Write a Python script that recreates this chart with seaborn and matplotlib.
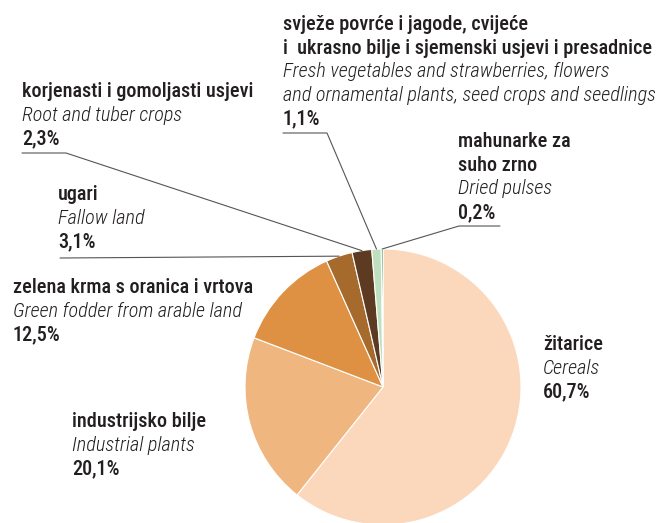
import matplotlib
matplotlib.use("Agg")
import matplotlib.pyplot as plt
import seaborn as sns
import numpy as np

# data
labels_hr = ["žitarice", "industrijsko bilje", "zelena krma s oranica i vrtova",
             "ugari", "korjenasti i gomoljasti usjevi",
             "svježe povrće i jagode, cvijeće\ni  ukrasno bilje i sjemenski usjevi i presadnice",
             "mahunarke za\nsuho zrno"]
labels_en = ["Cereals", "Industrial plants", "Green fodder from arable land",
             "Fallow land", "Root and tuber crops",
             "Fresh vegetables and strawberries, flowers\nand ornamental plants, seed crops and seedlings",
             "Dried pulses"]
shares = [60.7, 20.1, 12.5, 3.1, 2.3, 1.1, 0.2]
pct_labels = ["60,7%", "20,1%", "12,5%", "3,1%", "2,3%", "1,1%", "0,2%"]
colors = ["#fbd8bb", "#f0b680", "#de9142", "#a66a2c", "#5c3b22", "#bfe0bf", "#1b7a3c"]

# layout (pixel space of a 662x523 canvas)
W, H = 662, 523
CENTER = (383, 387)
RADIUS = 138
# x of text block, baseline of first line
text_pos = [(543, 350), (72, 427), (13, 293), (58, 200), (22, 97), (283, 30), (458, 147)]
# leader line start points (None = no leader)
leaders = [None, None, None,
           [(60, 258)],
           [(22, 153), (66, 153)],
           [(283, 133), (327, 133)],
           [(500, 226), (459, 226)]]

sns.set_style("white")
FONT = ["Roboto Condensed", "Liberation Sans Narrow", "DejaVu Sans"]
plt.rcParams["font.family"] = FONT

fig = plt.figure(figsize=(W / 100, H / 100), dpi=100)
ax = fig.add_axes([0, 0, 1, 1])

wedges, _ = ax.pie(shares, colors=sns.color_palette(colors), startangle=-90,
                   counterclock=True, center=CENTER, radius=RADIUS,
                   wedgeprops=dict(edgecolor="white", linewidth=0.8))
ax.set_xlim(0, W)
ax.set_ylim(H, 0)
ax.set_aspect("equal")
ax.axis("off")

LINE = 23.7
fs = 14.6
txt_col = "#231f20"
for i in range(len(shares)):
    x, y = text_pos[i]
    hr_lines = labels_hr[i].split("\n")
    en_lines = labels_en[i].split("\n")
    k = 0
    for s in hr_lines:
        ax.text(x, y + k * LINE, s, fontsize=fs, color=txt_col, va="baseline",
                ha="left", fontweight="medium", family=FONT)
        k += 1
    for s in en_lines:
        ax.text(x, y + k * LINE, s, fontsize=fs, color=txt_col, va="baseline",
                ha="left", style="italic", fontweight="light", family=FONT)
        k += 1
    ax.text(x, y + k * LINE, pct_labels[i], fontsize=fs, color=txt_col,
            va="baseline", ha="left", fontweight="medium", family=FONT)

    if leaders[i] is not None:
        w = wedges[i]
        mid = np.deg2rad((w.theta1 + w.theta2) / 2)
        ex = w.center[0] + w.r * np.cos(mid)
        ey = w.center[1] + w.r * np.sin(mid)
        pts = leaders[i] + [(ex, ey)]
        ax.plot([p[0] for p in pts], [p[1] for p in pts], color="#555555", lw=0.8)

fig.savefig("out.png", dpi=100)
